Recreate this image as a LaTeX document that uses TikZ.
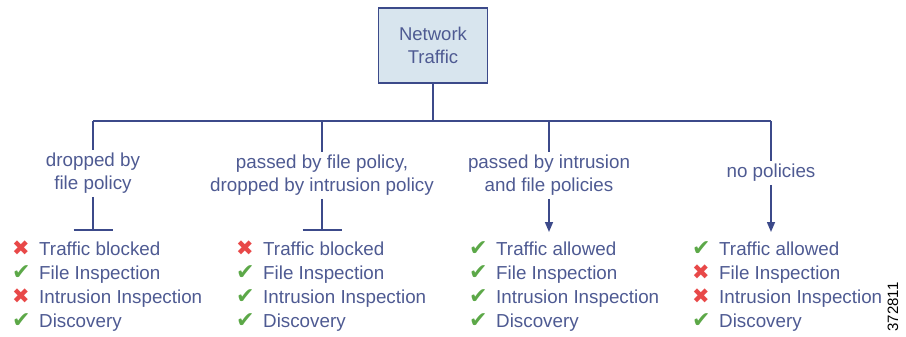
\documentclass[tikz,border=0pt]{standalone}
\usepackage{fontspec}
\setmainfont{Liberation Sans}
\newfontfamily\symfont{DejaVu Sans}
\usetikzlibrary{positioning, arrows.meta}
\definecolor{linkblue}{RGB}{60,74,138}
\definecolor{txtblue}{RGB}{78,90,146}
\definecolor{boxfill}{RGB}{216,229,238}
\definecolor{okgreen}{RGB}{92,168,72}
\definecolor{nored}{RGB}{232,72,72}
\newcommand{\iconok}{\makebox[27pt][l]{\textcolor{okgreen}{\symfont\fontsize{22}{22}\selectfont ✔}}}
\newcommand{\iconno}{\makebox[27pt][l]{\textcolor{nored}{\symfont\fontsize{21}{21}\selectfont ✖}}}

\begin{document}
\begin{tikzpicture}[x=1pt, y=-1pt,
                lbl/.style={text=txtblue, align=center, inner sep=3pt, font=\fontsize{18.8}{23}\selectfont},
                item/.style={text=txtblue, anchor=base west, inner sep=0pt, font=\fontsize{18.8}{22}\selectfont},
                link/.style={draw=linkblue, line width=1.5pt}]
                \useasboundingbox (0,0) rectangle (906,337);
                \node[draw=linkblue, line width=1.6pt, fill=boxfill, minimum width=109pt, minimum height=75pt,
                      align=center, text=txtblue, font=\fontsize{18.5}{23}\selectfont] (net) at (433,45.5) {Network\\Traffic};
                \coordinate (hub) at (433,121);
                \coordinate (b1) at (93,121);
                \coordinate (b2) at (322,121);
                \coordinate (b3) at (549,121);
                \coordinate (b4) at (771,121);
                \coordinate (t1) at (93,230);
                \coordinate (t2) at (322,230);
                \coordinate (t3) at (549,232);
                \coordinate (t4) at (771,232);
                \draw[link] (net) -- (hub);
                \draw[link] (b1) -- (b4);
                % branch labels
                \node[lbl] (drop1) at (93,173.5) {dropped by\\file policy};
                \node[lbl] (drop2) at (322,175.5) {passed by file policy,\\dropped by intrusion policy};
                \node[lbl] (pass3) at (549,175.5) {passed by intrusion\\and file policies};
                \node[lbl] (pass4) at (771,173) {no policies};
                \draw[link] (b1) -- (drop1);
                \draw[link] (b2) -- (drop2);
                \draw[link] (b3) -- (pass3);
                \draw[link] (b4) -- (pass4);
                \draw[link] (drop1) -- (t1);
                \draw[link] (drop2) -- (t2);
                \draw[link] ([xshift=-19.5pt]t1) -- ([xshift=19.5pt]t1);
                \draw[link] ([xshift=-19.5pt]t2) -- ([xshift=19.5pt]t2);
                \draw[link, -{Triangle[length=10pt, width=8pt]}] (pass3) -- (t3);
                \draw[link, -{Triangle[length=10pt, width=8pt]}] (pass4) -- (t4);
                % result lists
                \foreach \mk/\txt [count=\r] in {\iconno/Traffic blocked, \iconok/File Inspection, \iconno/Intrusion Inspection, \iconok/Discovery}
                    \node[item] (c1r\r) at (12,231+24*\r) {\mk\txt};
                \foreach \mk/\txt [count=\r] in {\iconno/Traffic blocked, \iconok/File Inspection, \iconok/Intrusion Inspection, \iconok/Discovery}
                    \node[item] (c2r\r) at (236,231+24*\r) {\mk\txt};
                \foreach \mk/\txt [count=\r] in {\iconok/Traffic allowed, \iconok/File Inspection, \iconok/Intrusion Inspection, \iconok/Discovery}
                    \node[item] (c3r\r) at (469,231+24*\r) {\mk\txt};
                \foreach \mk/\txt [count=\r] in {\iconok/Traffic allowed, \iconno/File Inspection, \iconno/Intrusion Inspection, \iconok/Discovery}
                    \node[item] (c4r\r) at (692,231+24*\r) {\mk\txt};
                \node[rotate=90, inner sep=0pt, font=\fontsize{15}{15}\selectfont] (figno) at (893,307) {372811};
            \end{tikzpicture}
\end{document}
